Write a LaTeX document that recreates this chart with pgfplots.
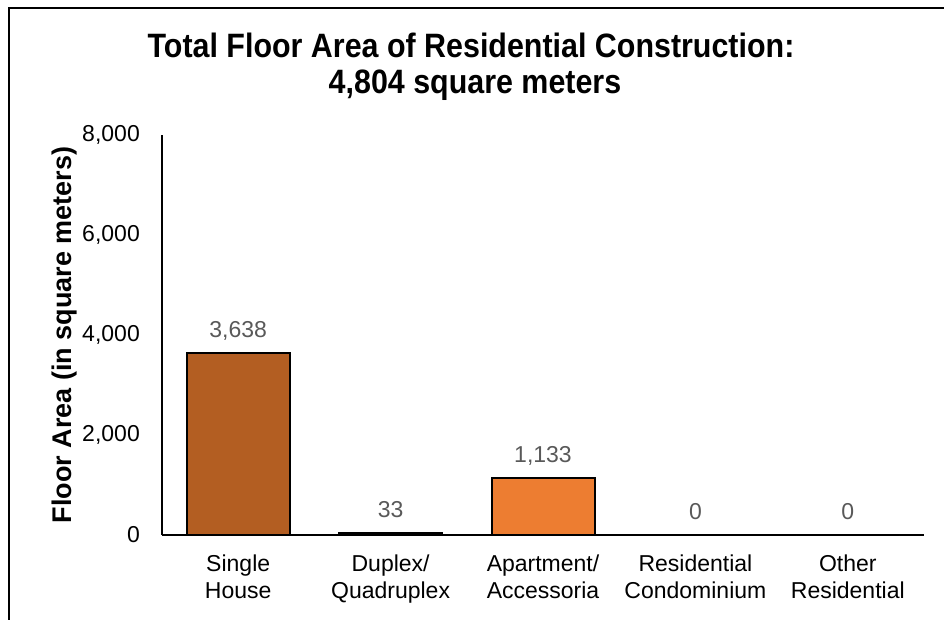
\documentclass[border=0pt]{standalone}
\usepackage{pgfplots}
\pgfplotsset{compat=1.18}
\usepackage{fontspec}
\setmainfont{Liberation Sans}
\newfontfamily\titlefont[FakeStretch=0.9]{Liberation Sans}
\definecolor{barbrown}{HTML}{B35E22}
\definecolor{barorange}{HTML}{ED7D31}
\definecolor{lblgray}{HTML}{595959}
\begin{document}
\begin{tikzpicture}
\useasboundingbox (0pt,0pt) rectangle (944pt,619pt);
% frame
\draw[line width=2pt] (9pt,-5pt) -- (9pt,611pt) -- (960pt,611pt);
% title
\node[anchor=base, font=\titlefont\fontsize{33.8}{40}\selectfont\bfseries] at (471pt,561pt) {Total Floor Area of Residential Construction:};
\node[anchor=base, font=\titlefont\fontsize{33.8}{40}\selectfont\bfseries] at (475pt,525pt) {4,804 square meters};
\begin{axis}[
  at={(162pt,84pt)}, anchor=south west,
  scale only axis, width=762pt, height=400pt,
  xmin=-0.5, xmax=4.5, ymin=0, ymax=8000,
  axis lines=left, axis line style={-, line width=2pt},
  ybar, bar width=103pt,
  every axis plot/.append style={bar shift=0pt, draw=black, line width=2pt},
  xtick={0,1,2,3,4},
  xticklabels={{Single\\House},{Duplex/\\Quadruplex},{Apartment/\\Accessoria},{Residential\\Condominium},{Other\\Residential}},
  xticklabel style={align=center, inner sep=0pt, anchor=north, yshift=-20pt, font=\fontsize{23}{27}\selectfont},
  ytick={0,2000,4000,6000,8000},
  yticklabel style={inner sep=0pt, anchor=east, xshift=-22pt, font=\fontsize{23}{27}\selectfont},
  major tick length=0pt,
  /pgf/number format/.cd, 1000 sep={,}, fixed, precision=0, assume math mode=true,
  /pgfplots/.cd,
  ylabel={Floor Area (in square meters)},
  every axis y label/.style={at={(axis description cs:-0.1273,0.5)}, rotate=90, anchor=center, font=\fontsize{27}{31}\selectfont\bfseries},
  nodes near coords,
  every node near coord/.append style={anchor=base, yshift=16pt, text=lblgray, font=\fontsize{23}{27}\selectfont},
  clip=false,
]
\addplot[fill=barbrown] coordinates {(0,3638)};
\addplot[fill=barbrown] coordinates {(1,33)};
\addplot[fill=barorange] coordinates {(2,1133)};
\addplot[fill=barorange] coordinates {(3,0)};
\addplot[fill=barorange] coordinates {(4,0)};
\end{axis}
\end{tikzpicture}
\end{document}
